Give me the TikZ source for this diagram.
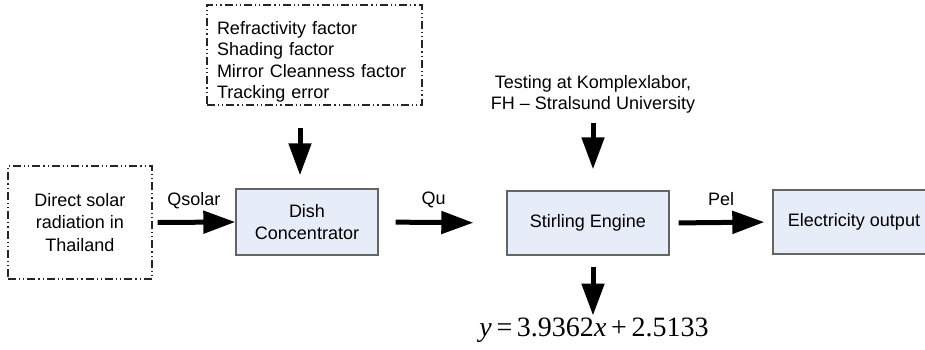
\documentclass[tikz,border=0pt]{standalone}
\usepackage{fontspec}
\setmainfont{Liberation Sans}
\newfontfamily\eqfont{Liberation Serif}
\usetikzlibrary{arrows.meta,shadows}
\definecolor{boxblue}{RGB}{230,236,248}
\definecolor{boxline}{RGB}{100,100,100}
\begin{document}
\begin{tikzpicture}[x=1pt,y=-1pt,
  every node/.style={font=\fontsize{18}{21.5}\selectfont},
  dashbox/.style={draw=black!85, line width=1.1pt,
    dash pattern=on 8pt off 3pt on 1.2pt off 3pt on 1.2pt off 3pt, inner sep=0pt},
  blockbox/.style={draw=boxline, line width=1.4pt, fill=boxblue, inner sep=0pt, align=center,
    drop shadow={shadow xshift=1pt, shadow yshift=-1pt, fill=black, opacity=0.9}},
  flow/.style={line width=5pt, -{Triangle[length=32pt,width=22pt]}},
  lab/.style={inner sep=0pt}
]
\useasboundingbox (0,0) rectangle (925,349);
\node[dashbox, minimum width=144pt, minimum height=113pt, align=center,
  font=\fontsize{18}{22.5}\selectfont] (src) at (80,222.5)
  {Direct solar\\radiation in\\Thailand};
\node[dashbox, minimum width=215pt, minimum height=100pt, align=left, text width=195pt] (par) at (314.5,55)
  {\rule{0pt}{27pt}Refractivity factor\\Shading factor\\Mirror Cleanness factor\\Tracking error};
\node[blockbox, minimum width=142pt, minimum height=66pt] (dish) at (307,222) {Dish\\Concentrator};
\node[blockbox, minimum width=162pt, minimum height=64pt] (stir) at (588,223) {Stirling Engine};
\node[blockbox, minimum width=162pt, minimum height=64pt] (elec) at (854,222) {Electricity output};
\node[align=center] (test) at (593,94.5) {Testing at Komplexlabor,\\FH – Stralsund University};
\node[inner sep=0pt] (eq) at (594,330)
  {\eqfont\fontsize{28}{30}\selectfont\textit{y}\,=\,3.9362\textit{x}\,+\,2.5133};

\draw[flow, shorten <=5pt] (src.east) -- node[lab, midway, yshift=22pt] {Qsolar} (dish.west);
\draw[flow, shorten <=17pt, shorten >=33pt] (dish.east) -- node[lab, pos=0.43, yshift=23pt] {Qu} (stir.west);
\draw[flow, shorten <=9pt, shorten >=8pt] (stir.east) -- node[lab, midway, yshift=23pt] {Pel} (elec.west);
\draw[flow, shorten <=22pt, shorten >=13pt] ([xshift=-14.5pt]par.south) -- ([xshift=-14.5pt]par.south |- dish.north);
\draw[flow, shorten <=6pt, shorten >=21pt] (test.south) -- (test.south |- stir.north);
\draw[flow, shorten <=11pt, shorten >=2pt] ([xshift=5pt]stir.south) -- ([xshift=5pt]stir.south |- eq.north);
\end{tikzpicture}
\end{document}
